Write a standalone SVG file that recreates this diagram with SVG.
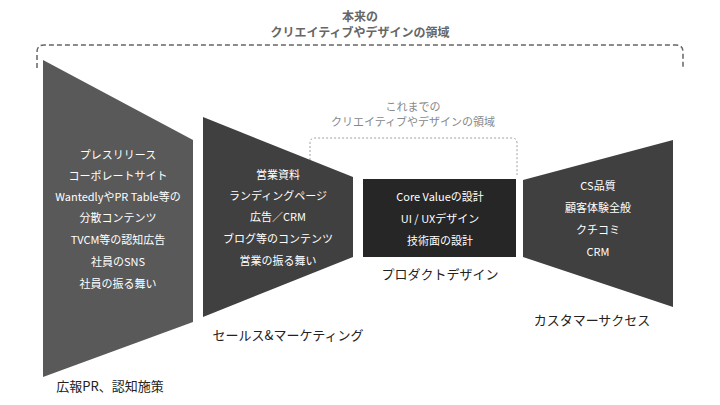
<svg xmlns="http://www.w3.org/2000/svg" width="720" height="405" viewBox="0 0 720 405">
<style>
text{font-family:"Noto Sans CJK JP","Noto Sans",sans-serif;text-anchor:middle}
.w{fill:#fff;font-size:11px}
.lb{fill:#222;font-size:13px}
</style>
<rect width="720" height="405" fill="#fff"/>
<g id="connectors" fill="none">
<path d="M37,68 L37,52 Q37,45 44,45 L676,45 Q683,45 683,52 L683,68" stroke="#666" stroke-width="1.5" stroke-dasharray="5,3"/>
<path d="M310,180 L310,143 Q310,138 315,138 L512,138 Q517,138 517,143 L517,175" stroke="#888" stroke-width="0.8" stroke-dasharray="2,2"/>
</g>
<g id="title"><text x="360" y="21" fill="#666" font-size="12" font-weight="bold">本来の</text><text x="360" y="37" fill="#666" font-size="12" font-weight="bold">クリエイティブやデザインの領域</text></g>
<g id="inner-title"><text x="413" y="111" fill="#888" font-size="11">これまでの</text><text x="413" y="126" fill="#888" font-size="11">クリエイティブやデザインの領域</text></g>
<g id="pr">
<polygon points="43,60 193,140 193,322 43,377" fill="#595959"/>
<text class="w" x="118" y="159">プレスリリース</text>
<text class="w" x="118" y="180">コーポレートサイト</text>
<text class="w" x="118" y="201">WantedlyやPR Table等の</text>
<text class="w" x="118" y="222">分散コンテンツ</text>
<text class="w" x="118" y="244">TVCM等の認知広告</text>
<text class="w" x="118" y="266">社員のSNS</text>
<text class="w" x="118" y="288">社員の振る舞い</text>
<text class="lb" x="110" y="391">広報PR、認知施策</text>
</g>
<g id="sales">
<polygon points="203,117 353,177 353,257 203,317" fill="#404040"/>
<text class="w" x="278" y="179">営業資料</text>
<text class="w" x="278" y="200">ランディングページ</text>
<text class="w" x="278" y="221">広告／CRM</text>
<text class="w" x="278" y="243">ブログ等のコンテンツ</text>
<text class="w" x="278" y="265">営業の振る舞い</text>
<text class="lb" x="288" y="340">セールス&amp;マーケティング</text>
</g>
<g id="product">
<rect x="363" y="179" width="153" height="78" fill="#262626"/>
<text class="w" x="440" y="201">Core Valueの設計</text>
<text class="w" x="440" y="223">UI / UXデザイン</text>
<text class="w" x="440" y="245">技術面の設計</text>
<text class="lb" x="440" y="279">プロダクトデザイン</text>
</g>
<g id="cs">
<polygon points="523,180 673,140 673,307 523,257" fill="#404040"/>
<text class="w" x="598" y="190">CS品質</text>
<text class="w" x="598" y="212">顧客体験全般</text>
<text class="w" x="598" y="234">クチコミ</text>
<text class="w" x="598" y="256">CRM</text>
<text class="lb" x="592" y="325">カスタマーサクセス</text>
</g>
</svg>
